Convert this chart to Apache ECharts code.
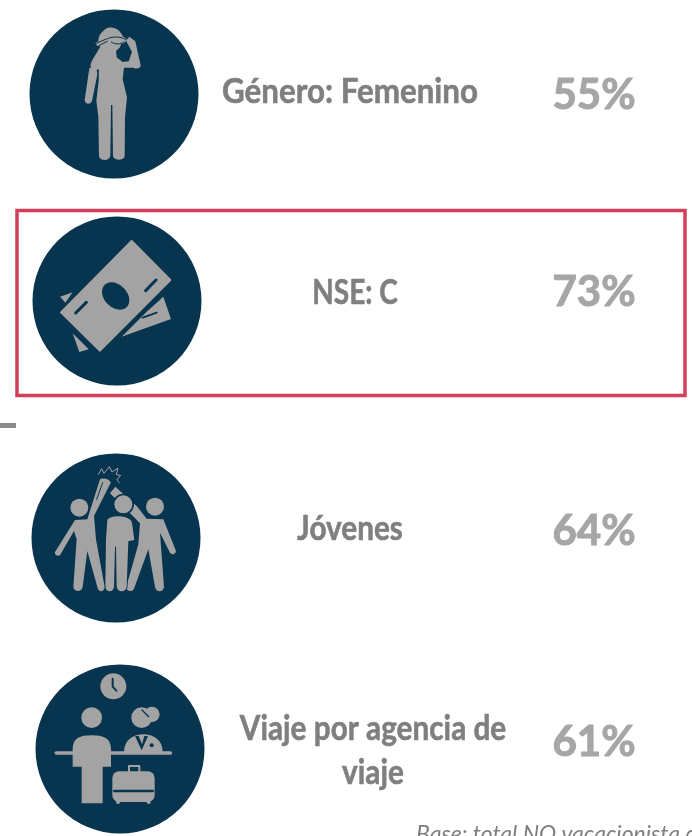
<!DOCTYPE html>
<html>
<head>
<meta charset="utf-8">
<style>
  html, body { margin: 0; padding: 0; background: #fff; overflow: hidden; }
  #main { width: 692px; height: 836px; }
</style>
<script src="https://cdn.jsdelivr.net/npm/echarts@6/dist/echarts.min.js"></script>
</head>
<body>
<div id="main"></div>
<script>
// datos
const categories = ['Género: Femenino', 'NSE: C', 'Jóvenes', 'Viaje por agencia de\nviaje']
const values = [55, 73, 64, 61]
const footnote = 'Base: total NO vacacionista de'

// posicion de cada fila
const circleX = [114, 117, 116, 120]
const circleY = [94, 301, 538, 749]
const labelX = [350, 355, 350, 373]
const labelY = [92, 293, 529, 751]
const labelScale = [0.895, 0.8, 0.85, 0.85]
const valueY = [95, 292, 531, 742]

const NAVY = '#07344F'
const GRAY = '#A3A3A3'

function fillPath (d, color) {
  return {type: 'path', shape: {pathData: d}, style: {fill: color || GRAY}}
}
function linePath (d, color, width) {
  return {type: 'path', shape: {pathData: d}, style: {fill: 'none', stroke: color, lineWidth: width, lineCap: 'round', lineJoin: 'round'}}
}
function dot (cx, cy, r, color) {
  return {type: 'circle', shape: {cx: cx, cy: cy, r: r}, style: {fill: color || GRAY}}
}

const leftMan = 'M225 312 L262 310 L300 190 C306 184 330 188 332 200 L282 300 L288 370 L314 513 C312 530 295 530 292 513 L262 405 L248 513 C245 530 222 528 220 513 L230 370 L222 345 L180 418 C172 422 162 415 165 408 Z'
const midMan = 'M322 312 C330 296 390 296 396 320 L403 372 L385 376 L380 513 C378 530 352 530 350 513 L348 392 L345 392 L342 513 C340 530 318 530 316 513 L318 370 Z'

// iconos dibujados a escala 3x, origen en offset
const icons = [
  {
    offset: 0,
    parts: [
      fillPath('M268 205 C280 198 296 205 291 228 L276 303 C270 316 255 313 254 300 Z'),
      fillPath('M302 138 C288 165 264 192 274 205 C288 216 304 208 311 190 L322 160 Z'),
      fillPath('M312 150 L348 150 L350 172 L368 186 L386 184 L396 156 L378 122 L388 110 L406 124 L422 196 C421 206 410 208 400 203 L372 203 L368 238 L381 292 L375 350 L374 468 C372 483 342 483 339 468 L337 315 L333 315 L331 468 C328 484 298 483 297 468 L295 350 L289 302 L296 242 L297 190 L312 172 Z'),
      dot(330, 122, 35),
      fillPath('M322 84 C345 78 362 92 370 112 L330 112 L302 122 C302 104 308 90 322 84 Z'),
      fillPath('M286 128 L322 112 C338 102 372 106 380 118 C376 136 348 138 334 126 L292 138 Z'),
      linePath('M288 130 L322 116 C338 108 368 110 377 119 M334 126 C345 134 362 134 372 126 M298 136 L322 124', NAVY, 3)
    ]
  },
  {
    offset: 0,
    parts: [
      fillPath('M180 890 L218 877 L196 908 Z'),
      fillPath('M218 1000 L266 1048 L238 1056 Z'),
      fillPath('M490 890 L513 957 L365 1010 L440 935 Z'),
      linePath('M395 723 L511 840 L300 1052 L183 937 Z', GRAY, 6),
      fillPath('M395 723 L511 840 L300 1052 L183 937 Z'),
      {type: 'ellipse', shape: {cx: 0, cy: 0, rx: 47, ry: 34}, x: 347, y: 888, rotation: -Math.PI / 4, style: {fill: NAVY}},
      linePath('M437 872 L468 840', NAVY, 9),
      linePath('M227 939 L259 907', NAVY, 9),
      linePath('M428 953 L470 938', NAVY, 6)
    ]
  },
  {
    offset: 416,
    parts: [
      linePath('M295 175 L305 158 L312 172 L328 152 L336 168 L354 156 L349 176 L362 178 L350 192 L358 200', GRAY, 3),
      dot(238, 275, 27),
      dot(465, 272, 27),
      fillPath('M440 308 L490 310 L528 405 C525 419 512 416 509 408 L480 350 L492 513 C490 530 468 530 465 513 L445 400 L402 518 C395 530 380 525 378 515 L415 385 L420 322 L395 296 L330 232 L346 212 L412 272 Z'),
      dot(370, 265, 32, NAVY),
      dot(370, 265, 27),
      linePath(midMan, NAVY, 5),
      fillPath(midMan),
      linePath(leftMan, NAVY, 5),
      fillPath(leftMan),
      linePath('M308 200 L290 250', NAVY, 3)
    ]
  },
  {
    offset: 416,
    parts: [
      dot(340, 811, 39),
      linePath('M338 788 L338 812 L349 824', NAVY, 6),
      dot(275, 905, 31),
      dot(425, 905, 31),
      dot(456, 895, 23),
      linePath('M426 882 L446 902', NAVY, 4),
      fillPath('M372 1008 C372 972 400 955 430 955 C460 955 488 972 488 1008 Z'),
      fillPath('M405 960 L416 960 L426 985 L433 960 L444 960 L425 1003 Z', NAVY),
      dot(455, 988, 6, NAVY),
      linePath('M169 1011 L511 1011', GRAY, 11),
      fillPath('M218 1000 C218 966 240 958 275 958 C310 958 333 966 333 1000 L333 1052 L308 1052 L308 1162 L245 1162 L245 1052 L218 1052 Z'),
      linePath('M387 1066 L387 1050 L418 1050 L418 1066', GRAY, 6),
      {type: 'rect', shape: {x: 337, y: 1066, width: 127, height: 92, r: 20}, style: {fill: GRAY}},
      dot(354, 1158, 6),
      dot(446, 1158, 6),
      linePath('M343 1125 L458 1125', NAVY, 8)
    ]
  }
]

const chart = echarts.init(document.getElementById('main'))

const option = {
  backgroundColor: '#fff',
  animation: false,
  series: [
    {
      type: 'custom',
      coordinateSystem: 'none',
      silent: true,
      data: values.map((v, i) => [i, v]),
      renderItem: function (params, api) {
        const i = api.value(0)
        return {
          type: 'group',
          children: [
            {type: 'circle', shape: {cx: circleX[i], cy: circleY[i], r: 84.5}, style: {fill: NAVY}},
            {type: 'group', y: icons[i].offset, scaleX: 1 / 3, scaleY: 1 / 3, children: icons[i].parts.map(p => {
              return Object.assign({}, p)
            })},
            {
              type: 'text',
              x: labelX[i],
              y: labelY[i],
              scaleX: labelScale[i],
              style: {
                text: categories[i],
                font: 'bold 35px Lato',
                fill: '#7F7F7F',
                stroke: '#7F7F7F',
                lineWidth: 0.6,
                align: 'center',
                verticalAlign: 'middle',
                lineHeight: 44
              }
            },
            {
              type: 'text',
              x: 594,
              y: valueY[i],
              style: {
                text: api.value(1) + '%',
                font: 'bold 42px Lato',
                fill: '#A6A6A6',
                stroke: '#A6A6A6',
                lineWidth: 1,
                align: 'center',
                verticalAlign: 'middle'
              }
            }
          ]
        }
      }
    }
  ],
  graphic: [
    {type: 'rect', shape: {x: 17, y: 210.5, width: 668, height: 185}, style: {fill: 'none', stroke: '#D23F5A', lineWidth: 3.5}},
    {type: 'rect', shape: {x: 0, y: 423, width: 16, height: 5}, style: {fill: '#8A8A8A'}},
    {type: 'text', x: 416, y: 823, style: {text: footnote, font: 'italic 23px Lato', fill: '#7F7F7F'}}
  ]
}
chart.setOption(option)
</script>
</body>
</html>
